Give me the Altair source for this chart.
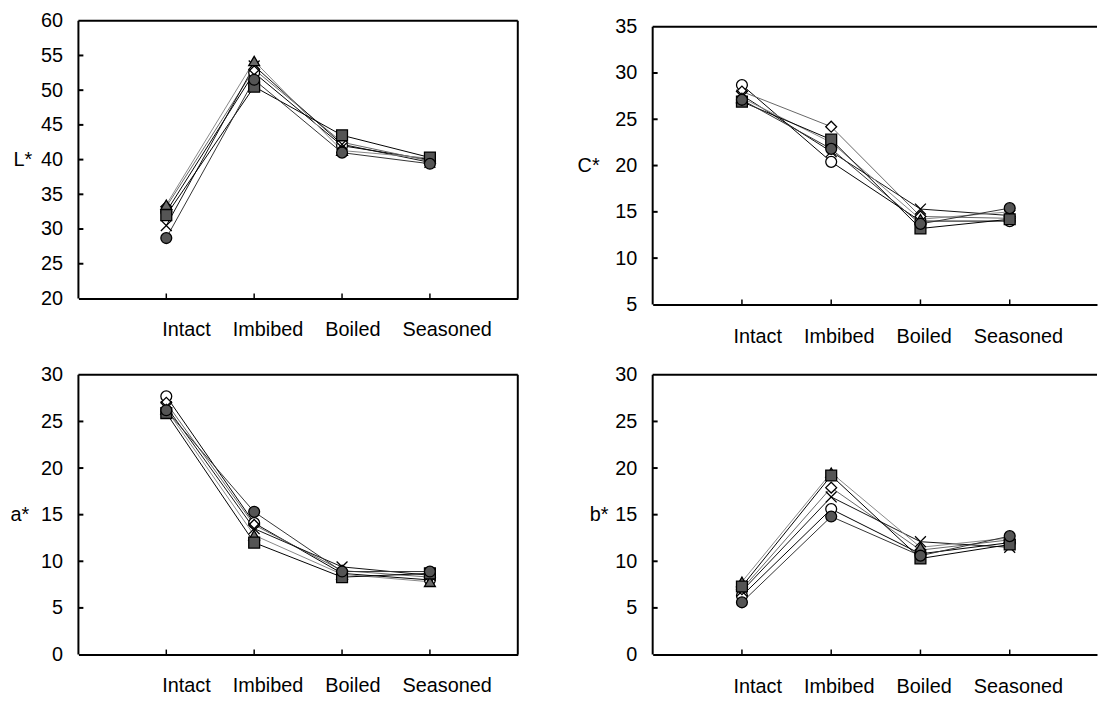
import altair as alt
import pandas as pd

categories = ["Intact", "Imbibed", "Boiled", "Seasoned"]
series = ["S1", "S2", "S3", "S4", "S5", "S6"]

# values per series (S1 open circle, S2 open diamond, S3 cross, S4 triangle, S5 square, S6 filled circle)
L_star = [
    [32.5, 52.5, 42.0, 40.0],
    [33.2, 53.0, 42.5, 39.8],
    [30.5, 53.5, 42.2, 39.6],
    [33.5, 54.2, 41.3, 40.2],
    [32.0, 50.5, 43.5, 40.3],
    [28.7, 51.5, 41.0, 39.4],
]
C_star = [
    [28.7, 20.4, 14.0, 14.0],
    [28.0, 24.2, 14.5, 14.3],
    [27.6, 21.5, 15.3, 14.6],
    [27.3, 22.5, 14.2, 15.0],
    [26.9, 22.8, 13.2, 14.2],
    [27.1, 21.8, 13.7, 15.4],
]
a_star = [
    [27.7, 14.1, 8.7, 8.0],
    [27.0, 13.9, 9.0, 8.3],
    [26.6, 13.5, 9.4, 8.5],
    [26.3, 12.8, 8.6, 7.8],
    [25.9, 12.0, 8.3, 8.7],
    [26.2, 15.3, 8.9, 8.9],
]
b_star = [
    [6.3, 15.6, 10.8, 12.0],
    [7.0, 17.9, 11.2, 12.3],
    [6.8, 16.9, 12.1, 11.5],
    [7.8, 19.5, 11.5, 12.5],
    [7.3, 19.2, 10.3, 11.8],
    [5.6, 14.8, 10.6, 12.7],
]

L_ticks = [20, 25, 30, 35, 40, 45, 50, 55, 60]
C_ticks = [5, 10, 15, 20, 25, 30, 35]
a_ticks = [0, 5, 10, 15, 20, 25, 30]
b_ticks = [0, 5, 10, 15, 20, 25, 30]

shapes = ["circle", "diamond", "M-1,-1L1,1M-1,1L1,-1", "triangle-up", "square", "circle"]
fills = ["white", "white", "white", "#6a6a6a", "#555555", "#555555"]
line_colors = ["#000000", "#666666", "#111111", "#888888", "#000000", "#333333"]

FONT = "Liberation Sans"
XTITLE = "\u00a0\u00a0\u00a0\u00a0".join(categories)


def long_df(values):
    rows = []
    for s, vals in zip(series, values):
        for i, (c, v) in enumerate(zip(categories, vals)):
            rows.append({"series": s, "stage": c, "pos": i + 1, "val": v})
    return pd.DataFrame(rows)


def panel(values, ticks, label, W, H, xmax, title_x, xtitle_x, xtitle_y, right_border, gap=0):
    """gap: blank pixels above the top of the frame (frame height = H - gap)."""
    df = long_df(values)
    ymin, ymax = ticks[0], ticks[-1]
    frame_h = H - gap
    ytop = ymax + gap * (ymax - ymin) / frame_h
    xenc = alt.X(
        "pos:Q",
        scale=alt.Scale(domain=[0, xmax], nice=False, zero=False),
        axis=alt.Axis(
            title=XTITLE, labels=False, ticks=False, tickSize=0, grid=False,
            domainColor="black", domainWidth=2,
            titleX=xtitle_x, titleY=xtitle_y, titleAlign="left", titleBaseline="middle",
            titleFont=FONT, titleFontSize=20, titleFontWeight="normal", titleColor="black",
        ),
    )
    yenc = alt.Y(
        "val:Q",
        scale=alt.Scale(domain=[ymin, ytop], nice=False, zero=False),
        axis=alt.Axis(
            title=label, values=ticks, tickCount=len(ticks) + 2, ticks=False, tickSize=0, grid=False,
            domain=False, labelPadding=16, labelOverlap=False,
            labelFont=FONT, labelFontSize=20, labelColor="black",
            titleAngle=0, titleX=title_x, titleY=gap + frame_h / 2, titleAlign="right",
            titleBaseline="middle", titleFont=FONT, titleFontSize=20,
            titleFontWeight="normal", titleColor="black",
        ),
    )
    lines = alt.Chart(df).mark_line(strokeWidth=1).encode(
        x=xenc, y=yenc, detail="series:N",
        color=alt.Color("series:N", scale=alt.Scale(domain=series, range=line_colors), legend=None),
    )
    pts = alt.Chart(df).mark_point(filled=True, size=120, stroke="black", strokeWidth=1.3, opacity=1).encode(
        x=xenc, y=yenc,
        shape=alt.Shape("series:N", scale=alt.Scale(domain=series, range=shapes), legend=None),
        fill=alt.Fill("series:N", scale=alt.Scale(domain=series, range=fills), legend=None),
    )
    ytk = alt.Chart(pd.DataFrame({"val": ticks[1:-1]})).mark_rule(strokeWidth=2, color="black").encode(
        y=yenc, x=alt.value(0), x2=alt.value(5)
    )
    xtk = alt.Chart(pd.DataFrame({"pos": list(range(1, len(categories) + 1))})).mark_rule(
        strokeWidth=1.5, color="black"
    ).encode(x=xenc, y=alt.value(H), y2=alt.value(H - 5))
    one = pd.DataFrame({"k": [0]})
    top = alt.Chart(one).mark_rule(strokeWidth=2, color="black").encode(
        x=alt.value(0), x2=alt.value(W), y=alt.datum(ymax)
    )
    left = alt.Chart(one).mark_rule(strokeWidth=2, color="black").encode(
        x=alt.value(0), y=alt.datum(ymax), y2=alt.datum(ymin)
    )
    layers = [lines, pts, ytk, xtk, top, left]
    if right_border:
        layers.append(
            alt.Chart(one).mark_rule(strokeWidth=2, color="black").encode(
                x=alt.value(W), y=alt.datum(ymax), y2=alt.datum(ymin)
            )
        )
    return alt.layer(*layers).properties(width=W, height=H)


TL = panel(L_star, L_ticks, "L*", 443, 280, 5.0, -47, 84, 31, True)
TR = panel(C_star, C_ticks, "C*", 448, 286, 4.978, -54, 81, 32, False, gap=6)
BL = panel(a_star, a_ticks, "a*", 443, 282, 5.0, -50, 84, 31, True)
BR = panel(b_star, b_ticks, "b*", 448, 282, 4.978, -45, 81, 32, False)

chart = (
    alt.concat(
        TL, TR, BL, BR, columns=2, bounds="flush",
        spacing=alt.RowColnumber(row=71, column=136),
    )
    .properties(padding={"left": 2, "top": 0, "right": 0, "bottom": 0})
    .configure(font=FONT)
    .configure_view(stroke="transparent", strokeWidth=0)
    .configure_axis(labelOverlap=False)
)

chart.save("out.html", embed_options={"renderer": "svg", "actions": False})
